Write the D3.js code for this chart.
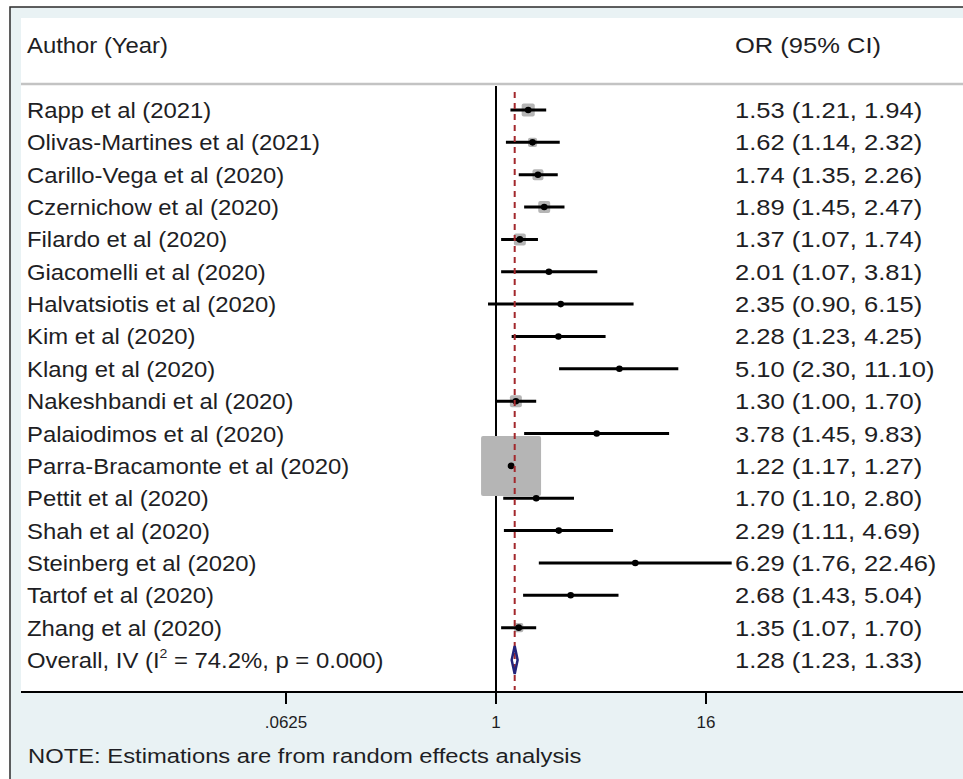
<!DOCTYPE html>
<html>
<head>
<meta charset="utf-8">
<script src="https://cdn.jsdelivr.net/npm/d3@7"></script>
<style>
  body { margin: 0; background: #fff; }
  text { font-family: "Liberation Sans", Arial, sans-serif; fill: #1e1e24; }
</style>
</head>
<body>
<div id="chart"></div>
<script>
// study data
var studies = ["Rapp et al (2021)", "Olivas-Martines et al (2021)", "Carillo-Vega et al (2020)",
    "Czernichow et al (2020)", "Filardo et al (2020)", "Giacomelli et al (2020)",
    "Halvatsiotis et al (2020)", "Kim et al (2020)", "Klang et al (2020)",
    "Nakeshbandi et al (2020)", "Palaiodimos et al (2020)", "Parra-Bracamonte et al (2020)",
    "Pettit et al (2020)", "Shah et al (2020)", "Steinberg et al (2020)",
    "Tartof et al (2020)", "Zhang et al (2020)"];
var or    = [1.53, 1.62, 1.74, 1.89, 1.37, 2.01, 2.35, 2.28, 5.10, 1.30, 3.78, 1.22, 1.70, 2.29, 6.29, 2.68, 1.35];
var lower = [1.21, 1.14, 1.35, 1.45, 1.07, 1.07, 0.90, 1.23, 2.30, 1.00, 1.45, 1.17, 1.10, 1.11, 1.76, 1.43, 1.07];
var upper = [1.94, 2.32, 2.26, 2.47, 1.74, 3.81, 6.15, 4.25, 11.10, 1.70, 9.83, 1.27, 2.80, 4.69, 22.46, 5.04, 1.70];
// approximate weights (%)
var weights = [3.7, 1.8, 2.6, 3.1, 3.1, 0.35, 0.2, 0.35, 0.2, 3.1, 0.2, 78.0, 0.8, 0.35, 0.1, 0.35, 1.8];

var overall = { or: 1.28, lower: 1.23, upper: 1.33 };
var overallLabel = ["Overall, IV (I", "2", " = 74.2%, p = 0.000)"];
var xTicks = [0.0625, 1, 16];
var xTickLabels = [".0625", "1", "16"];

var width = 963, height = 779;

var svg = d3.select("#chart")
    .append("svg")
    .attr("width", width)
    .attr("height", height);

// outer frame with light blue background
svg.append("rect")
    .attr("x", 10).attr("y", 7)
    .attr("width", 970).attr("height", 790)
    .attr("fill", "#e9f2f4")
    .attr("stroke", "#2b2b2b")
    .attr("stroke-width", 1.5);

// white plot region
svg.append("rect")
    .attr("x", 21).attr("y", 18)
    .attr("width", 960).attr("height", 674)
    .attr("fill", "#fff");

// scales
var x = d3.scaleLog().base(2)
    .domain([0.0625, 16])
    .range([286, 706]);

var y = d3.scaleLinear()
    .domain([0, studies.length])
    .range([110, 660]);

var sizeScale = d3.scaleSqrt()
    .domain([0, d3.max(weights)])
    .range([0, 60]);

// text in the picture is a bit wider than the font -> stretch horizontally
var leftCol = svg.append("g").attr("transform", "translate(27,0) scale(1.085,1)");
var rightCol = svg.append("g").attr("transform", "translate(735,0) scale(1.16,1)");

// header
leftCol.append("text").attr("x", 0).attr("y", 53)
    .attr("font-size", 22).text("Author (Year)");
rightCol.append("text").attr("x", 0).attr("y", 53)
    .attr("font-size", 22).text("OR (95% CI)");

svg.append("line")
    .attr("x1", 21).attr("x2", width)
    .attr("y1", 84).attr("y2", 84)
    .attr("stroke", "#c3c3c3").attr("stroke-width", 2.5);

// null line at OR = 1
svg.append("line")
    .attr("x1", x(1)).attr("x2", x(1))
    .attr("y1", 86).attr("y2", 692)
    .attr("stroke", "#000").attr("stroke-width", 2);

// weight boxes
svg.selectAll(".box")
    .data(or)
    .enter()
    .append("rect")
    .attr("class", "box")
    .attr("x", (d, i) => x(d) - sizeScale(weights[i]) / 2)
    .attr("y", (d, i) => y(i) - sizeScale(weights[i]) / 2)
    .attr("width", (d, i) => sizeScale(weights[i]))
    .attr("height", (d, i) => sizeScale(weights[i]))
    .attr("rx", 2)
    .attr("fill", "#b5b5b5");

// confidence intervals
svg.selectAll(".ci")
    .data(or)
    .enter()
    .append("line")
    .attr("class", "ci")
    .attr("x1", (d, i) => x(lower[i]))
    .attr("x2", (d, i) => x(upper[i]))
    .attr("y1", (d, i) => y(i))
    .attr("y2", (d, i) => y(i))
    .attr("stroke", "#000")
    .attr("stroke-width", 3);

// point estimates
svg.selectAll(".pt")
    .data(or)
    .enter()
    .append("circle")
    .attr("class", "pt")
    .attr("cx", d => x(d))
    .attr("cy", (d, i) => y(i))
    .attr("r", 3.3)
    .attr("fill", "#000");

// overall effect line (dashed)
svg.append("line")
    .attr("x1", x(overall.or)).attr("x2", x(overall.or))
    .attr("y1", 92).attr("y2", 690)
    .attr("stroke", "#a3282c")
    .attr("stroke-width", 2)
    .attr("stroke-dasharray", "6,5");

// overall diamond
var yo = y(studies.length);
svg.append("path")
    .attr("d", "M" + x(overall.lower) + "," + yo +
        "L" + x(overall.or) + "," + (yo - 14) +
        "L" + x(overall.upper) + "," + yo +
        "L" + x(overall.or) + "," + (yo + 14) + "Z")
    .attr("fill", "none")
    .attr("stroke", "#23237a")
    .attr("stroke-width", 2.5);

// study labels
leftCol.selectAll(".lab")
    .data(studies)
    .enter()
    .append("text")
    .attr("class", "lab")
    .attr("x", 0)
    .attr("y", (d, i) => y(i) + 8)
    .attr("font-size", 22)
    .text(d => d);

var ovText = leftCol.append("text")
    .attr("x", 0).attr("y", yo + 8)
    .attr("font-size", 22);
ovText.append("tspan").text(overallLabel[0]);
ovText.append("tspan").attr("font-size", 13).attr("dy", -10).text(overallLabel[1]);
ovText.append("tspan").attr("dy", 10).text(overallLabel[2]);

// OR (95% CI) column
var fmt = d3.format(".2f");
rightCol.selectAll(".est")
    .data(or)
    .enter()
    .append("text")
    .attr("class", "est")
    .attr("x", 0)
    .attr("y", (d, i) => y(i) + 8)
    .attr("font-size", 22)
    .text((d, i) => fmt(d) + " (" + fmt(lower[i]) + ", " + fmt(upper[i]) + ")");

rightCol.append("text")
    .attr("x", 0).attr("y", yo + 8)
    .attr("font-size", 22)
    .text(fmt(overall.or) + " (" + fmt(overall.lower) + ", " + fmt(overall.upper) + ")");

// x axis
svg.append("line")
    .attr("x1", 21).attr("x2", width)
    .attr("y1", 692).attr("y2", 692)
    .attr("stroke", "#000").attr("stroke-width", 2);

svg.selectAll(".tick")
    .data(xTicks)
    .enter()
    .append("line")
    .attr("class", "tick")
    .attr("x1", d => x(d)).attr("x2", d => x(d))
    .attr("y1", 692).attr("y2", 704)
    .attr("stroke", "#000").attr("stroke-width", 2);

svg.selectAll(".ticklab")
    .data(xTicks)
    .enter()
    .append("text")
    .attr("class", "ticklab")
    .attr("x", d => x(d))
    .attr("y", 728)
    .attr("text-anchor", "middle")
    .attr("font-size", 17)
    .text((d, i) => xTickLabels[i]);

// footnote
svg.append("g")
    .attr("transform", "translate(28,0) scale(1.22,1)")
    .append("text")
    .attr("x", 0).attr("y", 763)
    .attr("font-size", 19.5)
    .text("NOTE: Estimations are from random effects analysis");
</script>
</body>
</html>
